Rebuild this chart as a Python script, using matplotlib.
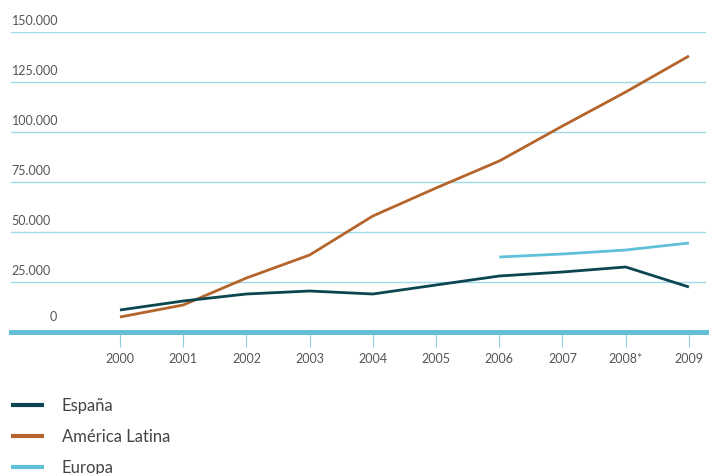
import matplotlib
matplotlib.use('Agg')
import matplotlib.pyplot as plt

# values
years = ['2000', '2001', '2002', '2003', '2004', '2005', '2006', '2007', '2008*', '2009']
espana = [11000, 15500, 19000, 20500, 19000, 23500, 28000, 30000, 32500, 22500]
america_latina = [7500, 13500, 27000, 38500, 58000, 72000, 85500, 103000, 120000, 138000]
europa_years = ['2006', '2007', '2008*', '2009']
europa = [37500, 39000, 41000, 44500]

plt.rcParams['font.family'] = ['Lato', 'DejaVu Sans']

W, H = 714, 474
fig = plt.figure(figsize=(W / 100, H / 100), dpi=100)

# axes box in pixels: left 11, right 706, top 32, bottom 332
ax = fig.add_axes([11 / W, 1 - 332 / H, (706 - 11) / W, (332 - 32) / H])

x = list(range(len(years)))
xe = [years.index(y) for y in europa_years]

ax.plot(x, espana, color='#0c4651', lw=2.0, solid_capstyle='butt', zorder=4, label='España')
ax.plot(x, america_latina, color='#b5642b', lw=2.0, solid_capstyle='butt', zorder=3, label='América Latina')
ax.plot(xe, europa, color='#5ec1d8', lw=2.0, solid_capstyle='butt', zorder=3, label='Europa')

ax.set_xlim(-1.724, 9.27)
ax.set_ylim(0, 150000)

# grid lines with labels sitting above them on the left
for v in range(25000, 150001, 25000):
    ax.axhline(v, color='#9fd9e7', lw=1.0, zorder=1)
ax.axhline(0, color='#63c0d6', lw=3.6, zorder=2, clip_on=False)

ax.set_yticks([])
for v in range(0, 150001, 25000):
    txt = '{:,}'.format(v).replace(',', '.')
    if v == 0:
        ax.text(-1.05, v + 4500, txt, fontsize=9, color='#555555', ha='center', va='bottom')
    else:
        ax.text(-1.715, v + 2600, txt, fontsize=9, color='#555555', ha='left', va='bottom')

ax.set_xticks(x)
ax.set_xticklabels(years)
ax.tick_params(axis='x', length=11, width=0.8, color='#8fd0e0', pad=4,
               labelsize=9, labelcolor='#555555', direction='out')

for s in ax.spines.values():
    s.set_visible(False)

# legend sits below the chart; last row runs off the bottom edge as in the original
fig.legend(loc='upper left', bbox_to_anchor=(11 / W, 1 - 398 / H), frameon=False,
           fontsize=12, handlelength=2.0, handletextpad=1.05, labelspacing=0.9,
           borderpad=0, borderaxespad=0, labelcolor='#444444')
for line in fig.legends[0].get_lines():
    line.set_linewidth(3.0)

fig.savefig('out.png', dpi=100)
